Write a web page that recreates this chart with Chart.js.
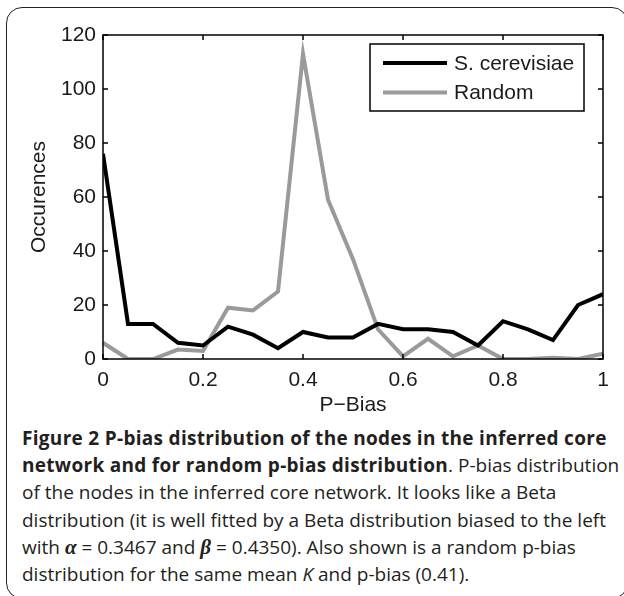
<!DOCTYPE HTML>
<html>

<head>
    <meta charset="utf-8">
    <title>P-bias distribution</title>
    <script src="https://cdn.jsdelivr.net/npm/chart.js@4.4.1/dist/chart.umd.min.js"></script>
    <style>
        html,
        body {
            margin: 0;
            padding: 0;
            background: #fff;
        }

        #page {
            position: relative;
            width: 624px;
            height: 596px;
            overflow: hidden;
        }

        #frame {
            position: absolute;
            left: 6px;
            top: 7px;
            width: 622px;
            height: 592px;
            border: 1.5px solid #222;
            border-radius: 16px;
            box-sizing: border-box;
        }

        #plot {
            position: absolute;
            left: 0;
            top: 0;
            width: 624px;
            height: 420px;
        }

        #caption {
            position: absolute;
            left: 22px;
            top: 425px;
            font-family: 'Open Sans', sans-serif;
            font-size: 19px;
            line-height: 27.2px;
            color: #231f20;
            white-space: nowrap;
        }

        #caption b {
            letter-spacing: 0.3px;
        }

        #caption .gr {
            font-family: 'Liberation Serif', serif;
            font-weight: bold;
            font-style: italic;
            font-size: 21px;
        }
    </style>
</head>

<body>
    <div id="page">
        <div id="frame"></div>
        <div id="plot"><canvas id="chart"></canvas></div>
        <div id="caption">
            <b>Figure 2 P-bias distribution of the nodes in the inferred core</b><br>
            <b>network and for random p-bias distribution</b>. P-bias distribution<br>
            of the nodes in the inferred core network. It looks like a Beta<br>
            distribution (it is well fitted by a Beta distribution biased to the left<br>
            with <span class="gr">α</span> = 0.3467 and <span class="gr">β</span> = 0.4350). Also shown is a random p-bias<br>
            distribution for the same mean <i>K</i> and p-bias (0.41).
        </div>
    </div>
    <script>
        // p-bias bins
        const pBias = [0, 0.05, 0.1, 0.15, 0.2, 0.25, 0.3, 0.35, 0.4, 0.45, 0.5,
            0.55, 0.6, 0.65, 0.7, 0.75, 0.8, 0.85, 0.9, 0.95, 1];
        const cerevisiae = [76, 13, 13, 6, 5, 12, 9, 4, 10, 8, 8,
            13, 11, 11, 10, 5, 14, 11, 7, 20, 24];
        const random = [6, 0, 0, 3.5, 3, 19, 18, 25, 113, 59, 37,
            11, 1, 7.5, 1, 5, 0, 0, 0.5, 0, 2];
        const xTicks = [0, 0.2, 0.4, 0.6, 0.8, 1];
        const xTickLabels = ['0', '0.2', '0.4', '0.6', '0.8', '1'];
        const yTicks = [0, 20, 40, 60, 80, 100, 120];

        const FONT = "'Liberation Sans', Arial, Helvetica, sans-serif";
        Chart.defaults.font.family = FONT;
        Chart.defaults.font.size = 21;
        Chart.defaults.color = '#1a1a1a';

        // MATLAB style box with inward ticks
        const boxPlugin = {
            id: 'box',
            afterDatasetsDraw(chart) {
                const { ctx, chartArea: a, scales } = chart;
                ctx.save();
                ctx.strokeStyle = '#000';
                ctx.lineWidth = 1.5;
                ctx.strokeRect(a.left, a.top, a.right - a.left, a.bottom - a.top);
                ctx.beginPath();
                const t = 5;
                xTicks.forEach(v => {
                    const x = scales.x.getPixelForValue(v);
                    ctx.moveTo(x, a.bottom); ctx.lineTo(x, a.bottom - t);
                    ctx.moveTo(x, a.top); ctx.lineTo(x, a.top + t);
                });
                yTicks.forEach(v => {
                    const y = scales.y.getPixelForValue(v);
                    ctx.moveTo(a.left, y); ctx.lineTo(a.left + t, y);
                    ctx.moveTo(a.right, y); ctx.lineTo(a.right - t, y);
                });
                ctx.stroke();
                ctx.restore();
            }
        };

        // boxed legend in the upper right
        const legendPlugin = {
            id: 'boxLegend',
            afterDraw(chart) {
                const { ctx } = chart;
                const bx = 370, by = 44, bw = 214, bh = 67;
                ctx.save();
                ctx.fillStyle = '#fff';
                ctx.fillRect(bx, by, bw, bh);
                ctx.strokeStyle = '#000';
                ctx.lineWidth = 1.5;
                ctx.strokeRect(bx, by, bw, bh);
                ctx.font = '21px ' + FONT;
                ctx.textBaseline = 'middle';
                chart.data.datasets.forEach((ds, i) => {
                    const y = by + 19 + i * 29.6;
                    ctx.strokeStyle = ds.borderColor;
                    ctx.lineWidth = ds.borderWidth;
                    ctx.beginPath();
                    ctx.moveTo(bx + 13, y);
                    ctx.lineTo(bx + 77, y);
                    ctx.stroke();
                    ctx.fillStyle = '#1a1a1a';
                    ctx.fillText(ds.label, bx + 84, y + 1);
                });
                ctx.restore();
            }
        };

        const ctx = document.getElementById('chart');
        new Chart(ctx, {
            type: 'line',
            data: {
                datasets: [{
                    label: 'S. cerevisiae',
                    data: pBias.map((x, i) => ({ x: x, y: cerevisiae[i] })),
                    borderColor: '#000',
                    borderWidth: 4,
                    pointRadius: 0,
                    tension: 0
                }, {
                    label: 'Random',
                    data: pBias.map((x, i) => ({ x: x, y: random[i] })),
                    borderColor: '#9a9a9a',
                    borderWidth: 4,
                    pointRadius: 0,
                    tension: 0
                }]
            },
            options: {
                responsive: true,
                maintainAspectRatio: false,
                animation: false,
                layout: { padding: { top: 35, right: 21, left: 0, bottom: 0 } },
                plugins: {
                    legend: { display: false },
                    tooltip: { enabled: false }
                },
                scales: {
                    x: {
                        type: 'linear',
                        min: 0, max: 1,
                        grid: { display: false, drawTicks: false },
                        border: { display: false },
                        afterBuildTicks: s => { s.ticks = xTicks.map(v => ({ value: v })); },
                        ticks: {
                            padding: 9, maxRotation: 0,
                            callback: (v) => xTickLabels[xTicks.indexOf(v)]
                        },
                        title: { display: true, text: 'P\u2212Bias', padding: { top: 0, bottom: 2 } },
                        afterFit: s => { s.height = 61; }
                    },
                    y: {
                        min: 0, max: 120,
                        grid: { display: false, drawTicks: false },
                        border: { display: false },
                        afterBuildTicks: s => { s.ticks = yTicks.map(v => ({ value: v })); },
                        ticks: { padding: 7 },
                        title: { display: true, text: 'Occurences', padding: { top: 27, bottom: 0 } },
                        afterFit: s => { s.width = 103; }
                    }
                }
            },
            plugins: [boxPlugin, legendPlugin]
        });
    </script>
</body>

</html>
